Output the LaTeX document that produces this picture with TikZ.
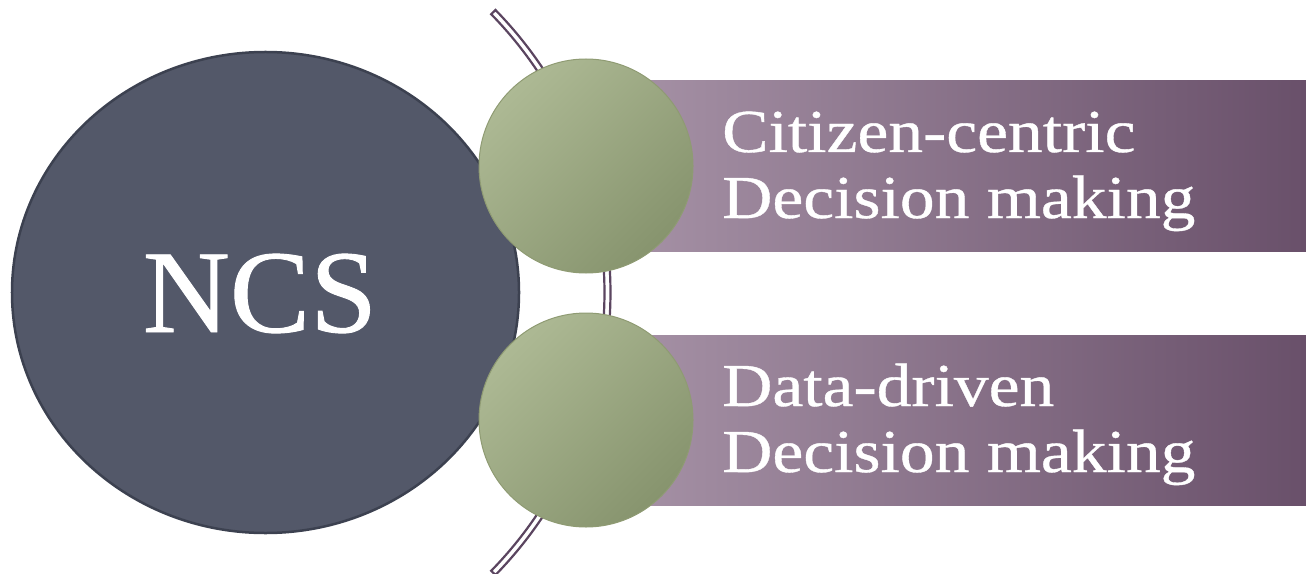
\documentclass[tikz,border=0pt]{standalone}
\usepackage{fontspec}
\setmainfont{Liberation Serif}
\newfontfamily\barfont[FakeStretch=1.14,FakeBold=0.6]{Liberation Serif}
\newfontfamily\ncsfont[FakeStretch=1.02,FakeBold=0.8]{Liberation Serif}
\usetikzlibrary{shapes.geometric}
\definecolor{ncsfill}{HTML}{535869}
\definecolor{ncsline}{HTML}{3C4150}
\definecolor{greenA}{HTML}{ADB994}
\definecolor{greenB}{HTML}{87946E}
\definecolor{greenline}{HTML}{8F9B73}
\definecolor{barA}{HTML}{A995A9}
\definecolor{barB}{HTML}{69506A}
\definecolor{arccol}{HTML}{5B4560}
\begin{document}
\begin{tikzpicture}[x=1bp,y=-1bp,
  bigellipse/.style={ellipse, draw=ncsline, line width=2.5bp, fill=ncsfill,
    minimum width=507bp, minimum height=481bp, inner sep=0pt},
  ball/.style={circle, draw=greenline, line width=1bp, top color=greenA, bottom color=greenB,
    shading angle=45, minimum size=214bp, inner sep=0pt},
  bar/.style={rectangle, draw=none, left color=barA, right color=barB,
    minimum width=720bp, minimum height=170bp, inner sep=0pt},
  bartext/.style={text=white, inner sep=0pt, anchor=base west,
    font=\barfont\fontsize{61bp}{66bp}\selectfont},
  ncstext/.style={text=white, inner sep=0pt, anchor=base,
    font=\ncsfont\fontsize{118bp}{130bp}\selectfont},
  arcline/.style={draw=arccol, line width=2.2bp, fill=white, line join=miter}
]
\useasboundingbox (0,0) rectangle (1306,574);
% big circle
\node[bigellipse] (ncs) at (265.5,292.5) {};
% double arc
\coordinate (arcc) at (206,292.5);
\path[arcline] ([shift={(206,292.5)}]44.3:404.5) arc[start angle=44.3, end angle=-44.3, radius=404.5]
  -- ([shift={(206,292.5)}]-44.3:398.5) arc[start angle=-44.3, end angle=44.3, radius=398.5] -- cycle;
% bars
\node[bar] (bar1) at (946,166) {};
\node[bar] (bar2) at (946,420) {};
% green balls
\node[ball] (ball1) at (586,166) {};
\node[ball] (ball2) at (586,420) {};
% texts
\node[ncstext] (ncslabel) at (260,332) {NCS};
\node[bartext] (t1a) at (722,152) {Citizen-centric};
\node[bartext] (t1b) at (722,218) {Decision making};
\node[bartext] (t2a) at (722,406) {Data-driven};
\node[bartext] (t2b) at (722,472) {Decision making};
\end{tikzpicture}
\end{document}
